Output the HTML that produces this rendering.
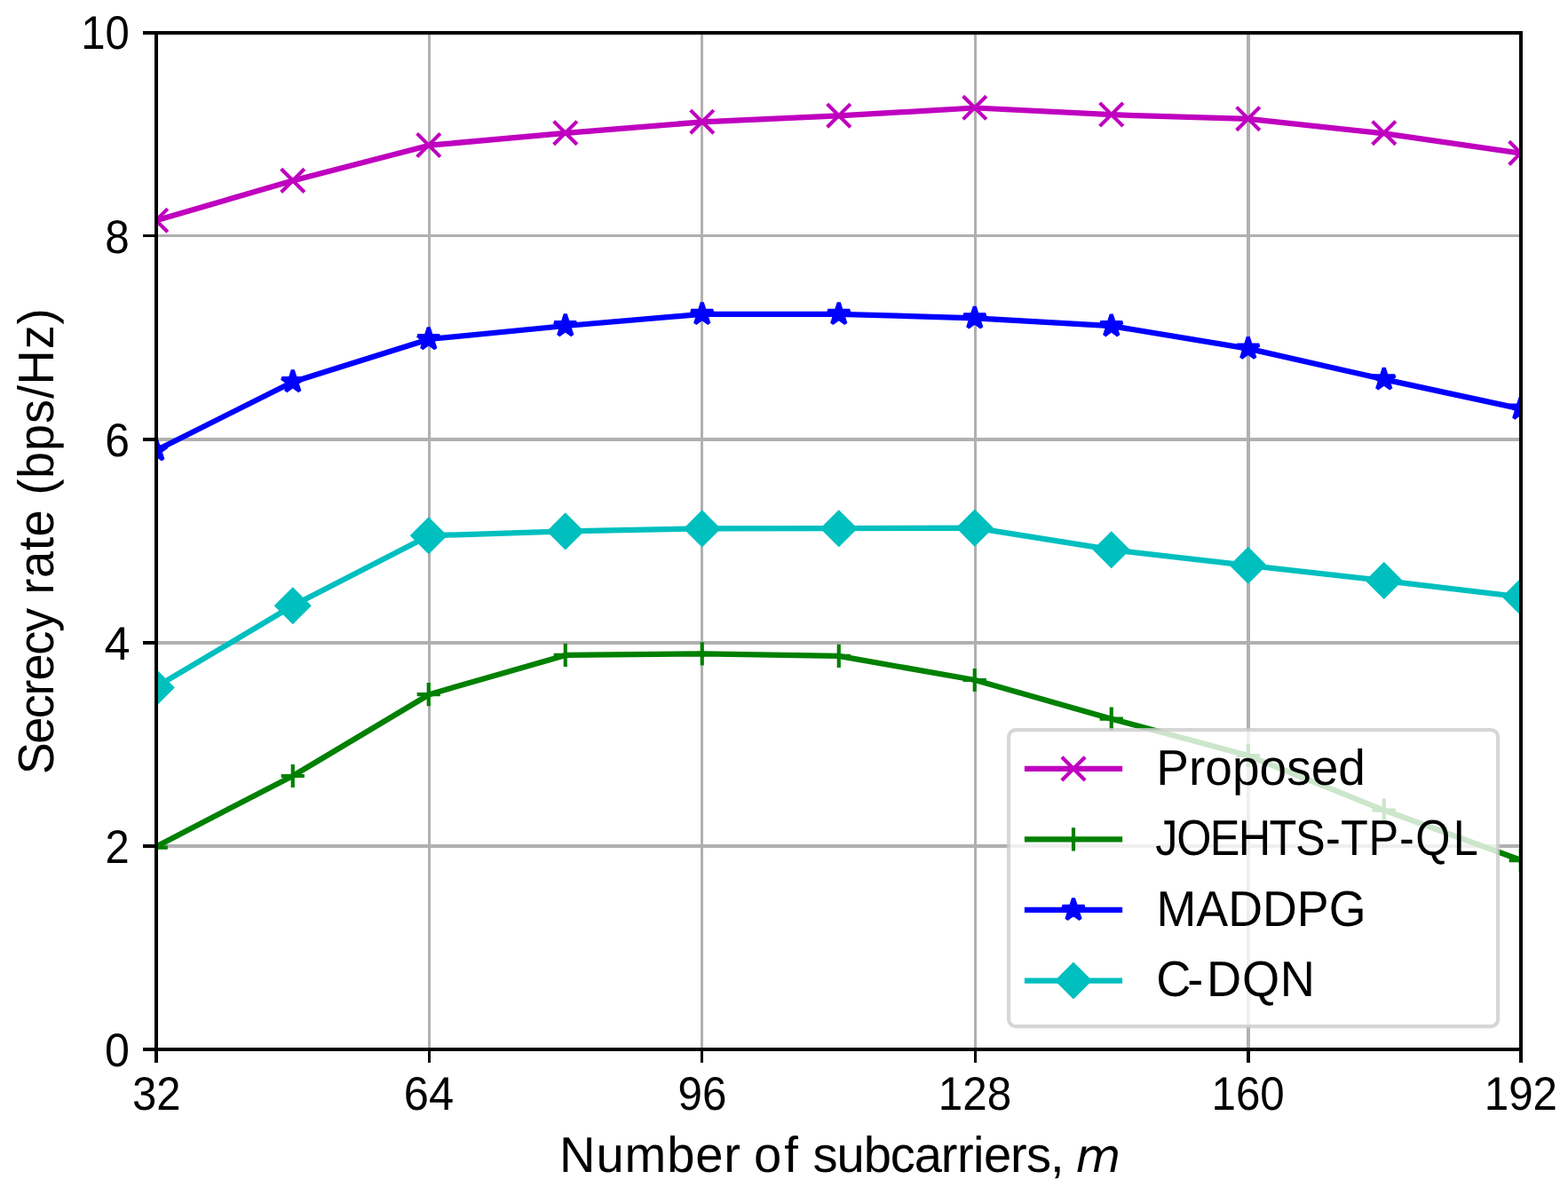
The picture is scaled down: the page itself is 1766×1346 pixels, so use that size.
<!DOCTYPE html>
<html lang="en"><head><meta charset="utf-8"><title>Secrecy rate vs number of subcarriers</title>
<style>
html,body{margin:0;padding:0;background:#fff;}
body{width:1766px;height:1346px;overflow:hidden;}
svg{display:block;position:absolute;left:0;top:0;}
text{font-family:"Liberation Sans",sans-serif;fill:#000;font-kerning:none;text-rendering:geometricPrecision;white-space:pre;}
.it{font-family:"DejaVu Sans",sans-serif;font-style:italic;}
</style></head><body>
<svg width="1766" height="1346" viewBox="0 0 1766 1346">
<rect x="0" y="0" width="1766" height="1346" fill="#ffffff"/>
<defs><clipPath id="ax"><rect x="176" y="37" width="1537" height="1145"/></clipPath></defs>
<g fill="#b0b0b0" shape-rendering="crispEdges">
<rect x="482" y="37" width="3" height="1145"/>
<rect x="789" y="37" width="3" height="1145"/>
<rect x="1097" y="37" width="3" height="1145"/>
<rect x="1404" y="37" width="4" height="1145"/>
<rect x="176" y="951" width="1537" height="4"/>
<rect x="176" y="722" width="1537" height="4"/>
<rect x="176" y="493" width="1537" height="4"/>
<rect x="176" y="264" width="1537" height="3"/>
</g>
<g fill="#000" shape-rendering="crispEdges">
<rect x="174" y="1182" width="4" height="15"/>
<rect x="482" y="1182" width="3" height="15"/>
<rect x="789" y="1182" width="3" height="15"/>
<rect x="1097" y="1182" width="3" height="15"/>
<rect x="1404" y="1182" width="4" height="15"/>
<rect x="1711" y="1182" width="4" height="15"/>
<rect x="161" y="1180" width="15" height="4"/>
<rect x="161" y="951" width="15" height="4"/>
<rect x="161" y="722" width="15" height="4"/>
<rect x="161" y="493" width="15" height="4"/>
<rect x="161" y="264" width="15" height="3"/>
<rect x="161" y="35" width="15" height="4"/>
</g>
<g clip-path="url(#ax)">
<polyline points="176,248.2 329.7,203.6 483.4,163.7 637.1,149.9 790.8,137.4 944.5,130.4 1098.2,121.5 1251.9,129.2 1405.6,133.9 1559.3,150.4 1713,172.6" fill="none" stroke="#bf00bf" stroke-width="6.25" stroke-linejoin="round" stroke-linecap="square"/>
<path d="M162.65 235.1L188.85 261.3M162.65 261.3L188.85 235.1" stroke="#bf00bf" stroke-width="4.17" fill="none"/>
<path d="M316.65 190.3L342.85 216.5M316.65 216.5L342.85 190.3" stroke="#bf00bf" stroke-width="4.17" fill="none"/>
<path d="M469.65 150.4L495.85 176.6M469.65 176.6L495.85 150.4" stroke="#bf00bf" stroke-width="4.17" fill="none"/>
<path d="M623.65 136.6L649.85 162.8M623.65 162.8L649.85 136.6" stroke="#bf00bf" stroke-width="4.17" fill="none"/>
<path d="M777.65 124.1L803.85 150.3M777.65 150.3L803.85 124.1" stroke="#bf00bf" stroke-width="4.17" fill="none"/>
<path d="M931.65 117.1L957.85 143.3M931.65 143.3L957.85 117.1" stroke="#bf00bf" stroke-width="4.17" fill="none"/>
<path d="M1084.65 108.2L1110.85 134.4M1084.65 134.4L1110.85 108.2" stroke="#bf00bf" stroke-width="4.17" fill="none"/>
<path d="M1238.65 115.9L1264.85 142.1M1238.65 142.1L1264.85 115.9" stroke="#bf00bf" stroke-width="4.17" fill="none"/>
<path d="M1392.65 120.6L1418.85 146.8M1392.65 146.8L1418.85 120.6" stroke="#bf00bf" stroke-width="4.17" fill="none"/>
<path d="M1545.65 136.6L1571.85 162.8M1545.65 162.8L1571.85 136.6" stroke="#bf00bf" stroke-width="4.17" fill="none"/>
<path d="M1699.65 159.3L1725.85 185.5M1699.65 185.5L1725.85 159.3" stroke="#bf00bf" stroke-width="4.17" fill="none"/>
<polyline points="176,953.4 329.7,874 483.4,782.2 637.1,737.9 790.8,736.4 944.5,738.9 1098.2,766 1251.9,809.7 1405.6,851 1559.3,912.8 1713,968.8" fill="none" stroke="#008000" stroke-width="6.25" stroke-linejoin="round" stroke-linecap="square"/>
<path d="M162.65 954.7L188.85 954.7M175.75 941.6L175.75 967.8" stroke="#008000" stroke-width="4.17" fill="none"/>
<path d="M316.65 874L342.85 874M329.75 860.9L329.75 887.1" stroke="#008000" stroke-width="4.17" fill="none"/>
<path d="M469.65 782.2L495.85 782.2M482.75 769.1L482.75 795.3" stroke="#008000" stroke-width="4.17" fill="none"/>
<path d="M623.65 737.9L649.85 737.9M636.75 724.8L636.75 751" stroke="#008000" stroke-width="4.17" fill="none"/>
<path d="M777.65 736.4L803.85 736.4M790.75 723.3L790.75 749.5" stroke="#008000" stroke-width="4.17" fill="none"/>
<path d="M931.65 738.9L957.85 738.9M944.75 725.8L944.75 752" stroke="#008000" stroke-width="4.17" fill="none"/>
<path d="M1084.65 766L1110.85 766M1097.75 752.9L1097.75 779.1" stroke="#008000" stroke-width="4.17" fill="none"/>
<path d="M1238.65 809.7L1264.85 809.7M1251.75 796.6L1251.75 822.8" stroke="#008000" stroke-width="4.17" fill="none"/>
<path d="M1392.65 851L1418.85 851M1405.75 837.9L1405.75 864.1" stroke="#008000" stroke-width="4.17" fill="none"/>
<path d="M1545.65 912.6L1571.85 912.6M1558.75 899.5L1558.75 925.7" stroke="#008000" stroke-width="4.17" fill="none"/>
<path d="M1699.65 969.1L1725.85 969.1M1712.75 956L1712.75 982.2" stroke="#008000" stroke-width="4.17" fill="none"/>
<polyline points="176,507.2 329.7,430.2 483.4,382 637.1,367 790.8,353.8 944.5,353.8 1098.2,358.3 1251.9,367.2 1405.6,392.6 1559.3,427.4 1713,460.5" fill="none" stroke="#0000ff" stroke-width="6.25" stroke-linejoin="round" stroke-linecap="square"/>
<polygon points="175.75,494.2 178.67,503.18 188.11,503.18 180.47,508.73 183.39,517.72 175.75,512.17 168.11,517.72 171.03,508.73 163.39,503.18 172.83,503.18" fill="#0000ff" stroke="#0000ff" stroke-width="4.17" stroke-linejoin="bevel"/>
<polygon points="329.75,417 332.67,425.98 342.11,425.98 334.47,431.53 337.39,440.52 329.75,434.97 322.11,440.52 325.03,431.53 317.39,425.98 326.83,425.98" fill="#0000ff" stroke="#0000ff" stroke-width="4.17" stroke-linejoin="bevel"/>
<polygon points="482.75,369 485.67,377.98 495.11,377.98 487.47,383.53 490.39,392.52 482.75,386.97 475.11,392.52 478.03,383.53 470.39,377.98 479.83,377.98" fill="#0000ff" stroke="#0000ff" stroke-width="4.17" stroke-linejoin="bevel"/>
<polygon points="636.75,354 639.67,362.98 649.11,362.98 641.47,368.53 644.39,377.52 636.75,371.97 629.11,377.52 632.03,368.53 624.39,362.98 633.83,362.98" fill="#0000ff" stroke="#0000ff" stroke-width="4.17" stroke-linejoin="bevel"/>
<polygon points="790.75,340.8 793.67,349.78 803.11,349.78 795.47,355.33 798.39,364.32 790.75,358.77 783.11,364.32 786.03,355.33 778.39,349.78 787.83,349.78" fill="#0000ff" stroke="#0000ff" stroke-width="4.17" stroke-linejoin="bevel"/>
<polygon points="944.75,340.8 947.67,349.78 957.11,349.78 949.47,355.33 952.39,364.32 944.75,358.77 937.11,364.32 940.03,355.33 932.39,349.78 941.83,349.78" fill="#0000ff" stroke="#0000ff" stroke-width="4.17" stroke-linejoin="bevel"/>
<polygon points="1097.75,345.3 1100.67,354.28 1110.11,354.28 1102.47,359.83 1105.39,368.82 1097.75,363.27 1090.11,368.82 1093.03,359.83 1085.39,354.28 1094.83,354.28" fill="#0000ff" stroke="#0000ff" stroke-width="4.17" stroke-linejoin="bevel"/>
<polygon points="1251.75,354.2 1254.67,363.18 1264.11,363.18 1256.47,368.73 1259.39,377.72 1251.75,372.17 1244.11,377.72 1247.03,368.73 1239.39,363.18 1248.83,363.18" fill="#0000ff" stroke="#0000ff" stroke-width="4.17" stroke-linejoin="bevel"/>
<polygon points="1405.75,379.6 1408.67,388.58 1418.11,388.58 1410.47,394.13 1413.39,403.12 1405.75,397.57 1398.11,403.12 1401.03,394.13 1393.39,388.58 1402.83,388.58" fill="#0000ff" stroke="#0000ff" stroke-width="4.17" stroke-linejoin="bevel"/>
<polygon points="1558.75,414.4 1561.67,423.38 1571.11,423.38 1563.47,428.93 1566.39,437.92 1558.75,432.37 1551.11,437.92 1554.03,428.93 1546.39,423.38 1555.83,423.38" fill="#0000ff" stroke="#0000ff" stroke-width="4.17" stroke-linejoin="bevel"/>
<polygon points="1712.75,447.5 1715.67,456.48 1725.11,456.48 1717.47,462.03 1720.39,471.02 1712.75,465.47 1705.11,471.02 1708.03,462.03 1700.39,456.48 1709.83,456.48" fill="#0000ff" stroke="#0000ff" stroke-width="4.17" stroke-linejoin="bevel"/>
<polyline points="176,773.6 329.7,682.3 483.4,603.3 637.1,598.4 790.8,595.4 944.5,595.2 1098.2,594.6 1251.9,619.2 1405.6,636.8 1559.3,654.2 1713,672.4" fill="none" stroke="#00bfbf" stroke-width="6.25" stroke-linejoin="round" stroke-linecap="square"/>
<polygon points="175.75,756.3 193.85,774.4 175.75,792.5 157.65,774.4" fill="#00bfbf" stroke="#00bfbf" stroke-width="4.17" stroke-linejoin="miter"/>
<polygon points="329.75,664.2 347.85,682.3 329.75,700.4 311.65,682.3" fill="#00bfbf" stroke="#00bfbf" stroke-width="4.17" stroke-linejoin="miter"/>
<polygon points="482.75,585.2 500.85,603.3 482.75,621.4 464.65,603.3" fill="#00bfbf" stroke="#00bfbf" stroke-width="4.17" stroke-linejoin="miter"/>
<polygon points="636.75,580.3 654.85,598.4 636.75,616.5 618.65,598.4" fill="#00bfbf" stroke="#00bfbf" stroke-width="4.17" stroke-linejoin="miter"/>
<polygon points="790.75,577.3 808.85,595.4 790.75,613.5 772.65,595.4" fill="#00bfbf" stroke="#00bfbf" stroke-width="4.17" stroke-linejoin="miter"/>
<polygon points="944.75,577.1 962.85,595.2 944.75,613.3 926.65,595.2" fill="#00bfbf" stroke="#00bfbf" stroke-width="4.17" stroke-linejoin="miter"/>
<polygon points="1097.75,576.5 1115.85,594.6 1097.75,612.7 1079.65,594.6" fill="#00bfbf" stroke="#00bfbf" stroke-width="4.17" stroke-linejoin="miter"/>
<polygon points="1251.75,601.1 1269.85,619.2 1251.75,637.3 1233.65,619.2" fill="#00bfbf" stroke="#00bfbf" stroke-width="4.17" stroke-linejoin="miter"/>
<polygon points="1405.75,618.7 1423.85,636.8 1405.75,654.9 1387.65,636.8" fill="#00bfbf" stroke="#00bfbf" stroke-width="4.17" stroke-linejoin="miter"/>
<polygon points="1558.75,635.8 1576.85,653.9 1558.75,672 1540.65,653.9" fill="#00bfbf" stroke="#00bfbf" stroke-width="4.17" stroke-linejoin="miter"/>
<polygon points="1712.75,654.1 1730.85,672.2 1712.75,690.3 1694.65,672.2" fill="#00bfbf" stroke="#00bfbf" stroke-width="4.17" stroke-linejoin="miter"/>
</g>
<g fill="#000" shape-rendering="crispEdges">
<rect x="174" y="35" width="4" height="1149"/>
<rect x="1711" y="35" width="4" height="1149"/>
<rect x="174" y="35" width="1541" height="4"/>
<rect x="174" y="1180" width="1541" height="4"/>
</g>
<text transform="translate(0 1250.4) scale(0.9250 1)" x="161 190.48" y="0" font-size="53">32</text>
<text transform="translate(0 1250.4) scale(0.9560 1)" x="475.77 505.24" y="0" font-size="53">64</text>
<text transform="translate(0 1250.4) scale(0.9309 1)" x="820.12 849.6" y="0" font-size="53">96</text>
<text transform="translate(0 1250.4) scale(0.9319 1)" x="1134.03 1163.51 1192.99" y="0" font-size="53">128</text>
<text transform="translate(0 1250.4) scale(0.9293 1)" x="1468.38 1497.85 1527.33" y="0" font-size="53">160</text>
<text transform="translate(0 1250.4) scale(0.9312 1)" x="1795.21 1824.69 1854.17" y="0" font-size="53">192</text>
<text transform="translate(0 1201.2) scale(0.9473 1)" x="124.5" y="0" font-size="53">0</text>
<text transform="translate(0 972) scale(0.9236 1)" x="128.24" y="0" font-size="53">2</text>
<text transform="translate(0 742.5) scale(0.9866 1)" x="119.09" y="0" font-size="53">4</text>
<text transform="translate(0 513.7) scale(0.9405 1)" x="125.86" y="0" font-size="53">6</text>
<text transform="translate(0 284.6) scale(0.9329 1)" x="126.76" y="0" font-size="53">8</text>
<text transform="translate(0 55) scale(0.9254 1)" x="98.63 128.1" y="0" font-size="53">10</text>
<text transform="translate(0 1319.9) scale(0.9929 1)" x="634.5 676.31 708.5 756.72 788.91 821.11 822.12 855.09 889.68 890.69 922.06 949.3 979.61 1009.91 1037.16 1067.46 1085.61 1103.76 1115.86 1146.17 1164.31 1191.56" y="0" font-size="56.5">Number of subcarriers, <tspan class="it" font-size="52.08" x="1220.25" textLength="51.27" lengthAdjust="spacingAndGlyphs">m</tspan></text>
<text transform="translate(59.9 900) rotate(-90) scale(0.9577 1)" x="29.1 64.91 94.77 121.61 139.49 169.35 196.2 197.24 240.58 260.01 292.46 308.68 309.72 357.59 376.97 409.34 441.71 470.82 486.99 529.03 558.13" y="0" font-size="56.5">Secrecy rate (bps/Hz)</text>
<rect x="1136.05" y="822.05" width="551.05" height="334.05" rx="8" ry="8" fill="#ffffff" fill-opacity="0.8" stroke="#cccccc" stroke-opacity="0.8" stroke-width="4.17"/>
<line x1="1157" y1="865.9" x2="1261" y2="865.9" stroke="#bf00bf" stroke-width="6.25" stroke-linecap="square"/>
<path d="M1195.9 852.8L1222.1 879M1195.9 879L1222.1 852.8" stroke="#bf00bf" stroke-width="4.17" fill="none"/>
<text transform="translate(0 883.7) scale(0.9739 1)" x="1337.23 1374.92 1393.73 1425.15 1456.58 1488 1516.25 1547.67" y="0" font-size="56.5">Proposed</text>
<line x1="1157" y1="945.3" x2="1261" y2="945.3" stroke="#008000" stroke-width="6.25" stroke-linecap="square"/>
<path d="M1195.9 945.3L1222.1 945.3M1209 932.2L1209 958.4" stroke="#008000" stroke-width="4.17" fill="none"/>
<text transform="translate(0 963.1) scale(0.8924 1)" x="1458.03 1485.01 1526.99 1562.98 1601.95 1634.91 1673.04 1692.17 1727.26 1766.11 1786.47 1834.01" y="0" font-size="56.5">JOEHTS-TP-QL</text>
<line x1="1157" y1="1024.9" x2="1261" y2="1024.9" stroke="#0000ff" stroke-width="6.25" stroke-linecap="square"/>
<polygon points="1209,1011.9 1211.92,1020.88 1221.36,1020.88 1213.72,1026.43 1216.64,1035.42 1209,1029.87 1201.36,1035.42 1204.28,1026.43 1196.64,1020.88 1206.08,1020.88" fill="#0000ff" stroke="#0000ff" stroke-width="4.17" stroke-linejoin="bevel"/>
<text transform="translate(0 1042.7) scale(0.9514 1)" x="1369.09 1416.15 1453.84 1494.64 1535.44 1573.13" y="0" font-size="56.5">MADDPG</text>
<line x1="1157" y1="1104.5" x2="1261" y2="1104.5" stroke="#00bfbf" stroke-width="6.25" stroke-linecap="square"/>
<polygon points="1209,1086.4 1227.1,1104.5 1209,1122.6 1190.9,1104.5" fill="#00bfbf" stroke="#00bfbf" stroke-width="4.17" stroke-linejoin="miter"/>
<text transform="translate(0 1122.3) scale(0.9594 1)" x="1357.41 1393.93 1416.55 1458.12 1502.9" y="0" font-size="56.5">C-DQN</text>
</svg></body></html>
